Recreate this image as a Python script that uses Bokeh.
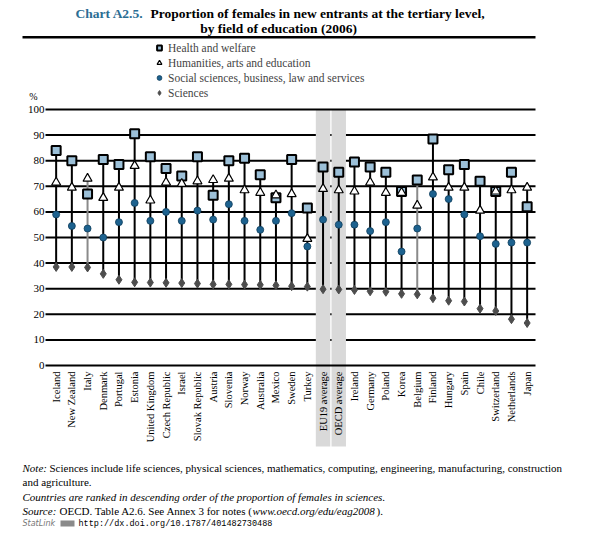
import numpy as np
from bokeh.plotting import figure
from bokeh.models import (Range1d, Label, BoxAnnotation, Legend, LegendItem, ColumnDataSource)
from bokeh.core.properties import value
from bokeh.embed import file_html
from bokeh.resources import INLINE

# ---------------- data ----------------
countries = ["Iceland", "New Zealand", "Italy", "Denmark", "Portugal", "Estonia",
             "United Kingdom", "Czech Republic", "Israel", "Slovak Republic", "Austria",
             "Slovenia", "Norway", "Australia", "Mexico", "Sweden", "Turkey",
             "EU19 average", "OECD average", "Ireland", "Germany", "Poland", "Korea",
             "Belgium", "Finland", "Hungary", "Spain", "Chile", "Switzerland",
             "Netherlands", "Japan"]
health = [84, 80, 67, 80.5, 78.5, 90.5, 81.5, 77, 74, 81.5, 66.5,
          80, 81, 74.5, 65.5, 80.5, 61.5,
          77.5, 75.5, 79.5, 77.5, 75.5, 68,
          72.5, 88.5, 76.5, 78.5, 72, 68, 75.5, 62]
humanities = [71.5, 69.5, 73, 65.5, 69.5, 78, 64.5, 71.5, 71, 72, 72.5,
              73, 68.5, 67.5, 66.5, 67, 49.5,
              69, 68.5, 68, 71.5, 67.5, 67.5,
              62.5, 73.5, 69.5, 69.5, 60.5, 68, 68.5, 69.5]
social = [59, 54.5, 53.5, 50, 56, 63.5, 56.5, 60, 56.5, 60.5, 57,
          63, 56.5, 53, 56.5, 59.5, 46.5,
          57, 55, 55, 52.5, 56, 44.5,
          53.5, 67, 65, 59, 50.5, 47.5, 48, 48]
sciences = [38.5, 38.5, 38.3, 35.8, 33.5, 32.5, 32.4, 32.3, 32.2, 32, 31.7,
            31.7, 31.6, 31.5, 31.3, 31, 30.8,
            29.8, 29.7, 29.5, 29, 28.8, 28,
            27.8, 26.3, 25.3, 25, 22.2, 21.3, 18.1, 16.6]
averages = ["EU19 average", "OECD average"]
grey_stems = ["Italy", "Belgium"]
y_ticks = list(range(0, 101, 10))

series_names = ["Health and welfare", "Humanities, arts and education",
                "Social sciences, business, law and services", "Sciences"]

# ---------------- layout (pixel geometry) ----------------
SERIF = "Liberation Serif"
W, H = 589, 537
X0, STEP = 47.8, 15.7          # left edge of first category slot, slot width (px)
Y0, PPU = 365.0, 2.56          # pixel row of value 0, pixels per unit


def dx(px):
    return (px - X0) / STEP


def dy(py):
    return (Y0 - py) / PPU


xpos = [i + 0.5 for i in range(len(countries))]
avg_pos = [xpos[countries.index(a)] for a in averages]
lo = [min(v) for v in zip(health, humanities, social, sciences)]
hi = [max(v) for v in zip(health, humanities, social, sciences)]
stem_colors = ["#8a8a8a" if c in grey_stems else "black" for c in countries]

src = ColumnDataSource(dict(x=xpos, c=countries, health=health, hum=humanities,
                            soc=social, sci=sciences, lo=lo, hi=hi, sc=stem_colors))

p = figure(width=W, height=H,
           x_range=Range1d(dx(0), dx(W)), y_range=Range1d(dy(H), dy(0)),
           output_backend="svg", toolbar_location=None,
           min_border=0, x_axis_location=None, y_axis_location=None)
p.outline_line_color = None
p.grid.visible = False

# grid lines (interrupted by the average bands), then bands, then 0/100 lines
inner = y_ticks[1:-1]
p.segment(x0=dx(45), x1=dx(535), y0=inner, y1=inner, line_color="black", line_width=2)
p.vbar(x=avg_pos, top=y_ticks[-1], bottom=dy(446), width=0.92,
       fill_color="#d9d9d9", line_color=None)
outer = [y_ticks[0], y_ticks[-1]]
p.segment(x0=dx(45), x1=dx(535), y0=outer, y1=outer, line_color="black", line_width=2)

# y tick labels
p.text(x=dx(44), y=y_ticks, text=[str(t) for t in y_ticks], text_align="right",
       text_baseline="middle", text_font=value(SERIF), text_font_size="11px",
       text_color="black")

# stems
p.segment(x0="x", y0="lo", x1="x", y1="hi", source=src, line_color="sc", line_width=2)

r_sci = p.scatter(x="x", y="sci", source=src, marker="diamond", size=9,
                  fill_color="#4d4d4d", line_color="#4d4d4d")
r_soc = p.scatter(x="x", y="soc", source=src, marker="circle", size=7,
                  fill_color="#1d628f", line_color="#0f3d5c", line_width=0.8)
r_hea = p.scatter(x="x", y="health", source=src, marker="square", size=9,
                  fill_color="#9cc0d8", line_color="black", line_width=2)
r_hum = p.scatter(x="x", y="hum", source=src, marker="triangle", size=9,
                  fill_color="white", line_color="black", line_width=1.2)

# category labels
p.text(x=xpos, y=dy(371), text=countries, angle=np.pi / 2, text_align="right",
       text_baseline="middle", text_font=value(SERIF), text_font_size="10.5px",
       text_color="black")

# legend
legend = Legend(items=[LegendItem(label=series_names[0], renderers=[r_hea]),
                       LegendItem(label=series_names[1], renderers=[r_hum]),
                       LegendItem(label=series_names[2], renderers=[r_soc]),
                       LegendItem(label=series_names[3], renderers=[r_sci])],
                location=(153, H - 99), orientation="vertical",
                background_fill_alpha=0, border_line_color=None,
                padding=0, margin=0, spacing=2, glyph_width=12, glyph_height=13,
                label_height=13, label_standoff=3,
                label_text_font=SERIF, label_text_font_size="11.5px")
p.add_layout(legend)


def lab(text, X, Y, size="11px", style="normal", color="black", align="left",
        font=SERIF, baseline="middle"):
    p.add_layout(Label(x=X, y=H - Y, x_units="screen", y_units="screen",
                       text=text, text_font=font, text_font_size=size,
                       text_font_style=style, text_color=color, text_align=align,
                       text_baseline=baseline))


def box(l, r, t, b, color):
    p.add_layout(BoxAnnotation(left=l, right=r, top=H - t, bottom=H - b,
                               left_units="screen", right_units="screen",
                               top_units="screen", bottom_units="screen",
                               fill_color=color, fill_alpha=1, line_color=None))


# title
lab("Chart A2.5.", 75, 13, size="13.5px", style="bold", color="#2b6d93")
lab("Proportion of females in new entrants at the tertiary level,", 150, 13,
    size="13.5px", style="bold")
lab("by field of education (2006)", 278, 27.5, size="13.5px", style="bold", align="center")
box(22, 535, 35.5, 38, "black")
lab("%", 33, 96, size="10px", align="center")

# notes
lab("Note:", 22, 467, style="italic")
lab("Sciences include life sciences, physical sciences, mathematics, computing, engineering, manufacturing, construction",
    49, 467)
lab("and agriculture.", 22, 481)
lab("Countries are ranked in descending order of the proportion of females in sciences.",
    22, 496, style="italic")
lab("Source:", 22, 510, style="italic")
lab("OECD. Table A2.6. See Annex 3 for notes (", 59, 510)
lab("www.oecd.org/edu/eag2008", 252, 510, style="italic")
lab(").", 376, 510)
lab("StatLink", 22, 523, size="8px", style="italic", color="#777777", font="DejaVu Sans")
box(60, 74, 520, 526, "#8a8a8a")
lab("http://dx.doi.org/10.1787/401482730488", 78, 523, size="8.5px",
    font="Liberation Mono")

open("out.html", "w").write(file_html(p, INLINE))
